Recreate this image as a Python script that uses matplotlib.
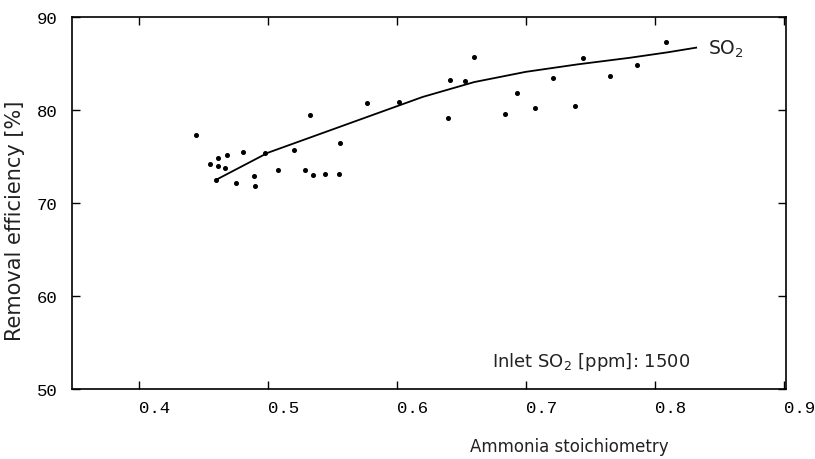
import matplotlib
matplotlib.use("Agg")
import matplotlib.pyplot as plt

# measured points (ammonia stoichiometry, removal efficiency %)
stoich = [0.444, 0.455, 0.461, 0.461, 0.468, 0.467, 0.481, 0.460, 0.475, 0.489,
          0.490, 0.498, 0.508, 0.520, 0.529, 0.535, 0.544, 0.555, 0.533, 0.556,
          0.577, 0.602, 0.640, 0.641, 0.653, 0.660, 0.684, 0.693, 0.707, 0.721,
          0.738, 0.744, 0.765, 0.786, 0.809]
efficiency = [77.3, 74.2, 74.8, 74.0, 75.2, 73.8, 75.5, 72.5, 72.1, 72.9,
              71.8, 75.4, 73.5, 75.7, 73.5, 73.0, 73.1, 73.1, 79.5, 76.4,
              80.7, 80.9, 79.1, 83.2, 83.1, 85.7, 79.6, 81.8, 80.2, 83.4,
              80.4, 85.6, 83.7, 84.8, 87.3]

# fitted SO2 curve
fit_x = [0.46, 0.50, 0.54, 0.58, 0.62, 0.66, 0.70, 0.74, 0.78, 0.81, 0.832]
fit_y = [72.5, 75.4, 77.4, 79.4, 81.4, 83.0, 84.1, 84.9, 85.6, 86.2, 86.7]

x_ticks = [0.4, 0.5, 0.6, 0.7, 0.8, 0.9]
y_ticks = [50, 60, 70, 80, 90]

fig = plt.figure(figsize=(8.15, 4.6), dpi=100)
ax = fig.add_axes([0.088, 0.152, 0.877, 0.809])

ax.plot(fit_x, fit_y, color="black", lw=1.3)
ax.plot(stoich, efficiency, "o", color="black", ms=2.6, ls="none")

ax.set_xlim(0.348, 0.902)
ax.set_ylim(50, 90)
ax.set_xticks(x_ticks)
ax.set_yticks(y_ticks)
ax.set_xticklabels(["{:.1f}".format(v) for v in x_ticks],
                   family="Liberation Mono", fontsize=12.5)
ax.set_yticklabels([str(v) for v in y_ticks],
                   family="Liberation Mono", fontsize=12.5)
for lab in ax.get_xticklabels():
    lab.set_ha("left")

ax.tick_params(direction="in", top=True, right=True, length=6, width=1.0,
               color="black")
ax.tick_params(axis="x", pad=8)
ax.tick_params(axis="y", pad=10)
for sp in ax.spines.values():
    sp.set_linewidth(1.2)

ax.set_xlabel("Ammonia stoichiometry", fontsize=12, family="DejaVu Sans",
              color="#222222")
ax.xaxis.set_label_coords(0.696, -0.128)
ax.set_ylabel("Removal efficiency [%]", fontsize=15, family="DejaVu Sans",
              color="#222222")
ax.yaxis.set_label_coords(-0.066, 0.454)

ax.text(0.841, 86.6, "SO$_2$", fontsize=13.5, va="center", ha="left",
        color="#222222")
ax.text(0.674, 53.0, "Inlet SO$_2$ [ppm]: 1500", fontsize=13, va="center",
        ha="left", color="#222222")

fig.savefig("out.png", dpi=100)
